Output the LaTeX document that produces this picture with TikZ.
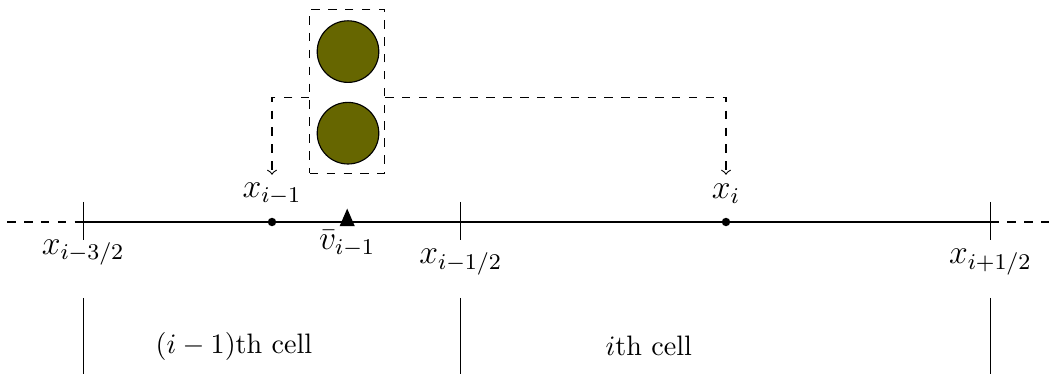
\documentclass[tikz,border=0pt]{standalone}
\usepackage{amsmath,amssymb}
\usepackage{xcolor}
\usepackage{tikz}
\usetikzlibrary{arrows.meta}
\usetikzlibrary{positioning, shapes.geometric}

\definecolor{olivedrab}{RGB}{102,102,0}

\begin{document}
\begin{tikzpicture}[
  lbl/.style={inner sep=1pt,font=\large},
  particle/.style={circle,draw,fill=olivedrab,minimum size=0.77cm,inner sep=0pt},
  gridpt/.style={circle,fill,minimum size=3pt,inner sep=0pt},
  ->, >=to
]
  \useasboundingbox (0,0) rectangle (13.3,4.675);

  % cell faces on the line
  \coordinate (lend) at (0.09,1.9);
  \coordinate (f1) at (1.04,1.9);
  \coordinate (f2) at (5.76,1.9);
  \coordinate (f3) at (12.38,1.9);
  \coordinate (rend) at (13.21,1.9);
  \draw[-,dashed] (lend)--(f1);
  \draw[-] (f1)--(f3);
  \draw[-,dashed] (f3)--(rend);
  \foreach \f in {f1,f2,f3} {
    \draw[-] ([yshift=0.25cm]\f)--([yshift=-0.23cm]\f);
    \draw[-] (\f |- 0,0.95)--(\f |- 0,0);
  }
  \node[lbl] (xf1) at (1.04,1.52) {$x_{i-3/2}$};
  \node[lbl] (xf2) at (5.76,1.4)  {$x_{i-1/2}$};
  \node[lbl] (xf3) at (12.38,1.4) {$x_{i+1/2}$};

  % cell centres and velocity point
  \node[gridpt] (c1) at (3.4,1.9) {};
  \node[gridpt] (c2) at (9.075,1.9) {};
  \node[isosceles triangle,shape border rotate=90,fill,inner sep=0pt,
        isosceles triangle stretches,minimum width=0.19cm,minimum height=0.22cm]
        (vel) at (4.34,1.91) {};
  \node[lbl] (xc1) at (3.4,2.25)   {$x_{i-1}$};
  \node[lbl] (xc2) at (9.075,2.25) {$x_i$};
  \node[lbl] (vc)  at (4.34,1.63)  {$\bar{v}_{i-1}$};

  % particles
  \node[particle] (p1) at (4.35,4.03) {};
  \node[particle] (p2) at (4.35,3.01) {};
  \node[draw,dashed,minimum width=0.935cm,minimum height=2.05cm] (box) at (4.34,3.535) {};
  \coordinate (t1) at (3.4,2.49);
  \coordinate (t2) at (9.075,2.49);
  \draw[dashed] (box.west |- 0,3.46) -| (t1);
  \draw[dashed] (box.east |- 0,3.46) -| (t2);

  \node (cell1) at (2.925,0.35) {$(i-1)$th cell};
  \node (cell2) at (8.11,0.35)  {$i$th cell};
\end{tikzpicture}
\end{document}
